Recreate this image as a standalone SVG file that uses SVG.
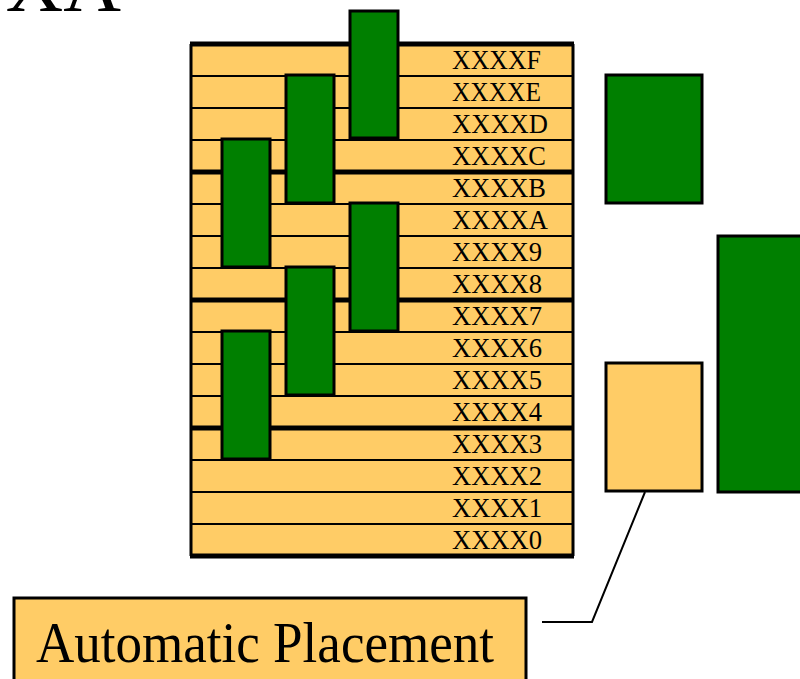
<svg xmlns="http://www.w3.org/2000/svg" width="800" height="679" viewBox="0 0 800 679">
  <style>
    .cell { fill: #FFCC66; }
    .blk { fill: #007F00; stroke: #000; stroke-width: 3; }
    .free { fill: #FFCC66; stroke: #000; stroke-width: 3; }
    .thin { stroke: #000; stroke-width: 2; }
    .thick { stroke: #000; stroke-width: 5; }
    .side { stroke: #000; stroke-width: 3; }
    .lbl { font-family: "Liberation Serif", "Times New Roman", serif; font-size: 28px; fill: #000; }
    .big { font-family: "Liberation Serif", "Times New Roman", serif; fill: #000; }
    .conn { fill: none; stroke: #000; stroke-width: 2; }
  </style>

  <!-- title, clipped by the top edge -->
  <text class="big" x="121" y="11" font-size="80" text-anchor="end">XA</text>

  <!-- address table -->
  <g id="table">
    <rect class="cell" x="190" y="44" width="384" height="512"/>
    <g id="row-F"><text class="lbl" x="452" y="69" textLength="89" lengthAdjust="spacingAndGlyphs">XXXXF</text></g>
    <g id="row-E"><text class="lbl" x="452" y="101" textLength="89" lengthAdjust="spacingAndGlyphs">XXXXE</text></g>
    <g id="row-D"><text class="lbl" x="452" y="133" textLength="96" lengthAdjust="spacingAndGlyphs">XXXXD</text></g>
    <g id="row-C"><text class="lbl" x="452" y="165" textLength="94" lengthAdjust="spacingAndGlyphs">XXXXC</text></g>
    <g id="row-B"><text class="lbl" x="452" y="197" textLength="94" lengthAdjust="spacingAndGlyphs">XXXXB</text></g>
    <g id="row-A"><text class="lbl" x="452" y="229" textLength="96" lengthAdjust="spacingAndGlyphs">XXXXA</text></g>
    <g id="row-9"><text class="lbl" x="452" y="261" textLength="90" lengthAdjust="spacingAndGlyphs">XXXX9</text></g>
    <g id="row-8"><text class="lbl" x="452" y="293" textLength="90" lengthAdjust="spacingAndGlyphs">XXXX8</text></g>
    <g id="row-7"><text class="lbl" x="452" y="325" textLength="90" lengthAdjust="spacingAndGlyphs">XXXX7</text></g>
    <g id="row-6"><text class="lbl" x="452" y="357" textLength="90" lengthAdjust="spacingAndGlyphs">XXXX6</text></g>
    <g id="row-5"><text class="lbl" x="452" y="389" textLength="90" lengthAdjust="spacingAndGlyphs">XXXX5</text></g>
    <g id="row-4"><text class="lbl" x="452" y="421" textLength="90" lengthAdjust="spacingAndGlyphs">XXXX4</text></g>
    <g id="row-3"><text class="lbl" x="452" y="453" textLength="90" lengthAdjust="spacingAndGlyphs">XXXX3</text></g>
    <g id="row-2"><text class="lbl" x="452" y="485" textLength="90" lengthAdjust="spacingAndGlyphs">XXXX2</text></g>
    <g id="row-1"><text class="lbl" x="452" y="517" textLength="90" lengthAdjust="spacingAndGlyphs">XXXX1</text></g>
    <g id="row-0"><text class="lbl" x="452" y="549" textLength="90" lengthAdjust="spacingAndGlyphs">XXXX0</text></g>

    <!-- row separators -->
    <g class="thin">
      <line x1="190" y1="76" x2="574" y2="76"/>
      <line x1="190" y1="108" x2="574" y2="108"/>
      <line x1="190" y1="140" x2="574" y2="140"/>
      <line x1="190" y1="204" x2="574" y2="204"/>
      <line x1="190" y1="236" x2="574" y2="236"/>
      <line x1="190" y1="268" x2="574" y2="268"/>
      <line x1="190" y1="332" x2="574" y2="332"/>
      <line x1="190" y1="364" x2="574" y2="364"/>
      <line x1="190" y1="396" x2="574" y2="396"/>
      <line x1="190" y1="460" x2="574" y2="460"/>
      <line x1="190" y1="492" x2="574" y2="492"/>
      <line x1="190" y1="524" x2="574" y2="524"/>
    </g>
    <!-- page boundaries every four rows -->
    <g class="thick">
      <line x1="190" y1="44" x2="574" y2="44"/>
      <line x1="190" y1="172" x2="574" y2="172"/>
      <line x1="190" y1="300" x2="574" y2="300"/>
      <line x1="190" y1="428" x2="574" y2="428"/>
      <line x1="190" y1="556" x2="574" y2="556"/>
    </g>
    <line class="side" x1="191" y1="44" x2="191" y2="556"/>
    <line class="side" x1="573" y1="44" x2="573" y2="556"/>
  </g>

  <!-- placed blocks -->
  <g id="block-1"><rect class="blk" x="350" y="11" width="48" height="127"/></g>
  <g id="block-2"><rect class="blk" x="286" y="75" width="48" height="128"/></g>
  <g id="block-3"><rect class="blk" x="222" y="139" width="48" height="128"/></g>
  <g id="block-4"><rect class="blk" x="350" y="203" width="48" height="128"/></g>
  <g id="block-5"><rect class="blk" x="286" y="267" width="48" height="128"/></g>
  <g id="block-6"><rect class="blk" x="222" y="331" width="48" height="128"/></g>

  <!-- blocks waiting to be placed -->
  <g id="pending-small"><rect class="blk" x="606" y="75" width="96" height="128"/></g>
  <g id="pending-free"><rect class="free" x="606" y="363" width="96" height="128"/></g>
  <g id="pending-large"><rect class="blk" x="718" y="236" width="96" height="256"/></g>

  <!-- callout -->
  <g id="connectors">
    <polyline class="conn" points="645,492 592,622 542,622"/>
  </g>
  <g id="callout">
    <rect class="free" x="14" y="598" width="512" height="100" stroke-width="2"/>
    <text class="big" x="36" y="662" font-size="58" textLength="458" lengthAdjust="spacingAndGlyphs">Automatic Placement</text>
  </g>
</svg>
